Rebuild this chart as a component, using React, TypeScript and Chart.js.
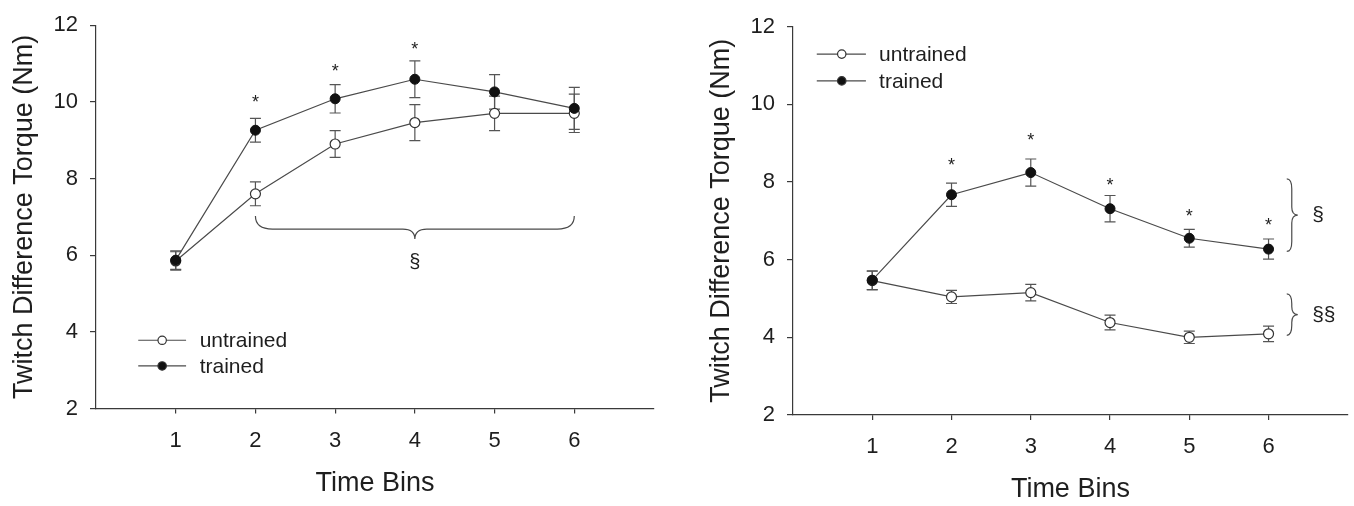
import React, { useEffect, useRef } from "react";
import { Chart, registerables } from "chart.js";

Chart.register(...registerables);

// ---------- data ----------
const timeBins = [1, 2, 3, 4, 5, 6];
const xTickLabels = ["1", "2", "3", "4", "5", "6"];
const yTickValues = [2, 4, 6, 8, 10, 12];

// Left panel
const leftUntrained = [5.85, 7.6, 8.9, 9.46, 9.7, 9.7];
const leftUntrainedErr = [0.24, 0.31, 0.35, 0.47, 0.45, 0.5];
const leftTrained = [5.87, 9.26, 10.08, 10.59, 10.26, 9.83];
const leftTrainedErr = [0.24, 0.31, 0.37, 0.48, 0.45, 0.55];
const leftStarBins = [2, 3, 4];
const leftStarValues = [10.11, 10.93, 11.5];

// Right panel
const rightUntrained = [5.46, 5.04, 5.15, 4.38, 4.0, 4.09];
const rightUntrainedErr = [0.24, 0.17, 0.21, 0.19, 0.16, 0.2];
const rightTrained = [5.47, 7.67, 8.24, 7.31, 6.55, 6.27];
const rightTrainedErr = [0.24, 0.3, 0.35, 0.34, 0.23, 0.26];
const rightStarBins = [2, 3, 4, 5, 6];
const rightStarValues = [8.55, 9.18, 8.03, 7.23, 6.99];

// ---------- styles ----------
const FONT = "'Liberation Sans', Arial, Helvetica, sans-serif";
const TEXT = "#1e1e1e";
const AXIS = "#3a3a3a";
const LINE = "#4a4a4a";
const ERR = "#555555";
const W = 677;
const H = 506;

type Brace = { orient: "h" | "v"; from: number; to: number; level: number; a: number; d: number; b: number; t: number };
type Label = { x: number; y: number; text: string; align: CanvasTextAlign };
type Panel = {
  untrained: number[];
  untrainedErr: number[];
  trained: number[];
  trainedErr: number[];
  starBins: number[];
  starValues: number[];
  braces: Brace[];
  labels: Label[];
  legend: { x1: number; x2: number; xm: number; xt: number; yU: number; yT: number };
  area: { left: number; top: number; right: number; bottom: number };
  yTitlePad: number;
  xTitlePad: number;
  sectionSize: number;
};

const leftPanel: Panel = {
  untrained: leftUntrained,
  untrainedErr: leftUntrainedErr,
  trained: leftTrained,
  trainedErr: leftTrainedErr,
  starBins: leftStarBins,
  starValues: leftStarValues,
  braces: [{ orient: "h", from: 2, to: 6, level: 7.02, a: 17, d: 13, b: 12, t: 10 }],
  labels: [{ x: 4, y: 5.82, text: "§", align: "center" }],
  legend: { x1: 0.53, x2: 1.13, xm: 0.83, xt: 1.3, yU: 3.78, yT: 3.11 },
  area: { left: 96, top: 19, right: 654, bottom: 408.5 },
  yTitlePad: 8,
  xTitlePad: 6,
  sectionSize: 20,
};

const rightPanel: Panel = {
  untrained: rightUntrained,
  untrainedErr: rightUntrainedErr,
  trained: rightTrained,
  trainedErr: rightTrainedErr,
  starBins: rightStarBins,
  starValues: rightStarValues,
  braces: [
    { orient: "v", from: 8.08, to: 6.21, level: 6.23, a: 10, d: 5, b: 8, t: 6 },
    { orient: "v", from: 5.12, to: 4.05, level: 6.23, a: 10, d: 5, b: 8, t: 6 },
  ],
  labels: [
    { x: 6.55, y: 7.14, text: "§", align: "left" },
    { x: 6.55, y: 4.58, text: "§§", align: "left" },
  ],
  legend: { x1: 0.3, x2: 0.92, xm: 0.615, xt: 1.086, yU: 11.29, yT: 10.6 },
  area: { left: 116, top: 26.5, right: 672, bottom: 415 },
  yTitlePad: 28,
  xTitlePad: 0,
  sectionSize: 21,
};

function drawBrace(ctx: CanvasRenderingContext2D, u1: number, u2: number, v0: number, br: Brace, map: (u: number, v: number) => [number, number]) {
  const lo = Math.min(u1, u2);
  const hi = Math.max(u1, u2);
  const um = (lo + hi) / 2;
  const s = 1;
  const vd = v0 + s * br.d;
  const vt = v0 + s * (br.d + br.t);
  const P = (u: number, v: number) => map(u, v);
  ctx.beginPath();
  let p = P(lo, v0);
  ctx.moveTo(p[0], p[1]);
  let c = P(lo, vd);
  p = P(lo + br.a, vd);
  ctx.quadraticCurveTo(c[0], c[1], p[0], p[1]);
  p = P(um - br.b, vd);
  ctx.lineTo(p[0], p[1]);
  c = P(um, vd);
  p = P(um, vt);
  ctx.quadraticCurveTo(c[0], c[1], p[0], p[1]);
  c = P(um, vd);
  p = P(um + br.b, vd);
  ctx.quadraticCurveTo(c[0], c[1], p[0], p[1]);
  p = P(hi - br.a, vd);
  ctx.lineTo(p[0], p[1]);
  c = P(hi, vd);
  p = P(hi, v0);
  ctx.quadraticCurveTo(c[0], c[1], p[0], p[1]);
  ctx.stroke();
}

function makeOverlay(panel: Panel) {
  return {
    id: "overlay",
    beforeDatasetsDraw(chart: any) {
      const ctx: CanvasRenderingContext2D = chart.ctx;
      const xs = chart.scales.x;
      const ys = chart.scales.y;
      ctx.save();
      ctx.strokeStyle = ERR;
      ctx.lineWidth = 1.2;
      const series = [
        [panel.untrained, panel.untrainedErr],
        [panel.trained, panel.trainedErr],
      ];
      for (const [vals, errs] of series) {
        timeBins.forEach((b, i) => {
          const x = xs.getPixelForValue(b);
          const yTop = ys.getPixelForValue(vals[i] + errs[i]);
          const yBot = ys.getPixelForValue(vals[i] - errs[i]);
          ctx.beginPath();
          ctx.moveTo(x, yTop);
          ctx.lineTo(x, yBot);
          ctx.moveTo(x - 5.5, yTop);
          ctx.lineTo(x + 5.5, yTop);
          ctx.moveTo(x - 5.5, yBot);
          ctx.lineTo(x + 5.5, yBot);
          ctx.stroke();
        });
      }
      ctx.restore();
    },
    afterDatasetsDraw(chart: any) {
      const ctx: CanvasRenderingContext2D = chart.ctx;
      const xs = chart.scales.x;
      const ys = chart.scales.y;
      ctx.save();
      // asterisks
      ctx.fillStyle = TEXT;
      ctx.font = `18px ${FONT}`;
      ctx.textAlign = "center";
      ctx.textBaseline = "alphabetic";
      panel.starBins.forEach((b, i) => {
        ctx.fillText("*", xs.getPixelForValue(b), ys.getPixelForValue(panel.starValues[i]) + 0.575 * 18);
      });
      // braces
      ctx.strokeStyle = LINE;
      ctx.lineWidth = 1.2;
      for (const br of panel.braces) {
        if (br.orient === "h") {
          drawBrace(ctx, xs.getPixelForValue(br.from), xs.getPixelForValue(br.to), ys.getPixelForValue(br.level), br, (u, v) => [u, v]);
        } else {
          drawBrace(ctx, ys.getPixelForValue(br.from), ys.getPixelForValue(br.to), xs.getPixelForValue(br.level), br, (u, v) => [v, u]);
        }
      }
      // section labels
      ctx.font = `${panel.sectionSize}px ${FONT}`;
      ctx.textBaseline = "middle";
      for (const lb of panel.labels) {
        ctx.textAlign = lb.align;
        ctx.fillText(lb.text, xs.getPixelForValue(lb.x), ys.getPixelForValue(lb.y));
      }
      // legend
      const lg = panel.legend;
      const entries = [
        { y: lg.yU, text: "untrained", fill: "#ffffff" },
        { y: lg.yT, text: "trained", fill: "#111111" },
      ];
      for (const e of entries) {
        const py = ys.getPixelForValue(e.y);
        ctx.strokeStyle = LINE;
        ctx.lineWidth = 1.2;
        ctx.beginPath();
        ctx.moveTo(xs.getPixelForValue(lg.x1), py);
        ctx.lineTo(xs.getPixelForValue(lg.x2), py);
        ctx.stroke();
        ctx.beginPath();
        ctx.arc(xs.getPixelForValue(lg.xm), py, 4.2, 0, Math.PI * 2);
        ctx.fillStyle = e.fill;
        ctx.fill();
        ctx.strokeStyle = "#333";
        ctx.stroke();
        ctx.fillStyle = TEXT;
        ctx.font = `21px ${FONT}`;
        ctx.textAlign = "left";
        ctx.textBaseline = "middle";
        ctx.fillText(e.text, xs.getPixelForValue(lg.xt), py + 1);
      }
      ctx.restore();
    },
  };
}

function buildChart(canvas: HTMLCanvasElement, panel: Panel) {
  const a = panel.area;
  return new Chart(canvas, {
    type: "line",
    data: {
      datasets: [
        {
          label: "trained",
          data: timeBins.map((x, i) => ({ x, y: panel.trained[i] })),
          borderColor: LINE,
          borderWidth: 1.2,
          pointRadius: 5,
          pointBackgroundColor: "#111111",
          pointBorderColor: "#111111",
          pointBorderWidth: 1,
          tension: 0,
          order: 0,
          clip: false as any,
        },
        {
          label: "untrained",
          data: timeBins.map((x, i) => ({ x, y: panel.untrained[i] })),
          borderColor: LINE,
          borderWidth: 1.2,
          pointRadius: 5,
          pointBackgroundColor: "#ffffff",
          pointBorderColor: "#333333",
          pointBorderWidth: 1.2,
          tension: 0,
          order: 1,
          clip: false as any,
        },
      ],
    },
    options: {
      animation: false,
      responsive: false,
      maintainAspectRatio: false,
      events: [],
      layout: { padding: { left: 0, top: a.top, right: W - a.right, bottom: 0 } },
      plugins: { legend: { display: false }, tooltip: { enabled: false } },
      scales: {
        x: {
          type: "linear",
          min: 0,
          max: 7,
          afterBuildTicks: (s: any) => {
            s.ticks = timeBins.map((v) => ({ value: v }));
          },
          afterFit: (s: any) => {
            s.height = H - a.bottom;
          },
          ticks: {
            autoSkip: false,
            maxRotation: 0,
            padding: 14,
            color: TEXT,
            font: { family: FONT, size: 22 },
            callback: (v: any) => {
              const i = timeBins.indexOf(Number(v));
              return i >= 0 ? xTickLabels[i] : "";
            },
          },
          grid: { drawOnChartArea: false, drawTicks: true, tickLength: 5, color: AXIS, lineWidth: 1.2 },
          border: { display: true, color: AXIS, width: 1.2 },
          title: {
            display: true,
            text: "Time Bins",
            color: TEXT,
            font: { family: FONT, size: 27 },
            padding: { top: 0, bottom: panel.xTitlePad },
          },
        },
        y: {
          type: "linear",
          min: 2,
          max: 12,
          afterBuildTicks: (s: any) => {
            s.ticks = yTickValues.map((v) => ({ value: v }));
          },
          afterFit: (s: any) => {
            s.width = a.left;
          },
          ticks: {
            padding: 12,
            color: TEXT,
            font: { family: FONT, size: 22 },
          },
          grid: { drawOnChartArea: false, drawTicks: true, tickLength: 6, color: AXIS, lineWidth: 1.2 },
          border: { display: true, color: AXIS, width: 1.2 },
          title: {
            display: true,
            text: "Twitch Difference Torque (Nm)",
            color: TEXT,
            font: { family: FONT, size: 27 },
            padding: { top: panel.yTitlePad, bottom: 0 },
          },
        },
      },
    } as any,
    plugins: [makeOverlay(panel)],
  });
}

function PanelChart({ panel, left }: { panel: Panel; left: number }) {
  const ref = useRef<HTMLCanvasElement | null>(null);
  useEffect(() => {
    if (!ref.current) return;
    const chart = buildChart(ref.current, panel);
    return () => chart.destroy();
  }, [panel]);
  return (
    <canvas
      ref={ref}
      width={W}
      height={H}
      style={{ position: "absolute", left, top: 0, width: W, height: H }}
    />
  );
}

export default function App() {
  return (
    <div style={{ position: "absolute", left: 0, top: 0, width: 1354, height: 506, background: "#fff" }}>
      <PanelChart panel={leftPanel} left={0} />
      <PanelChart panel={rightPanel} left={677} />
    </div>
  );
}
